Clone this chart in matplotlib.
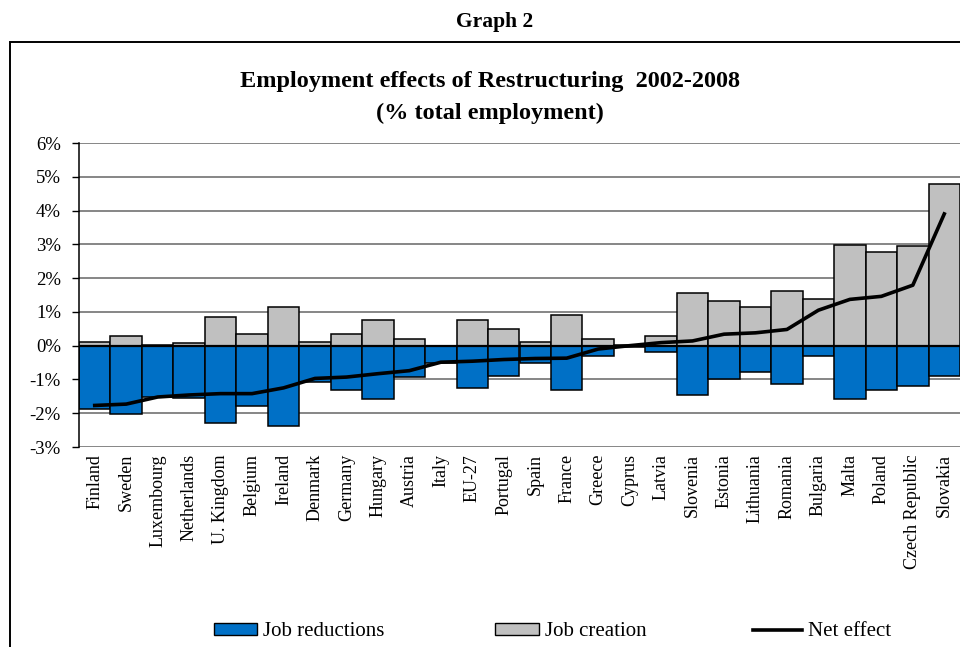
import matplotlib.pyplot as plt
import matplotlib.patches as patches
from matplotlib.lines import Line2D
import numpy as np

plt.rcParams['font.family'] = ['Liberation Serif', 'DejaVu Serif']

# Restructuring effects by country, % of total employment
countries = ["Finland", "Sweden", "Luxembourg", "Netherlands", "U. Kingdom", "Belgium",
             "Ireland", "Denmark", "Germany", "Hungary", "Austria", "Italy", "EU-27",
             "Portugal", "Spain", "France", "Greece", "Cyprus", "Latvia", "Slovenia",
             "Estonia", "Lithuania", "Romania", "Bulgaria", "Malta", "Poland",
             "Czech Republic", "Slovakia"]
job_creation = [0.10, 0.29, 0.01, 0.07, 0.86, 0.34, 1.14, 0.10, 0.34, 0.75, 0.19, 0.00,
                0.77, 0.48, 0.10, 0.90, 0.19, 0.03, 0.29, 1.57, 1.32, 1.14, 1.61, 1.37,
                2.98, 2.78, 2.95, 4.80]
job_reductions = [-1.87, -2.02, -1.53, -1.55, -2.30, -1.78, -2.39, -1.08, -1.30, -1.58,
                  -0.93, -0.50, -1.26, -0.89, -0.50, -1.30, -0.32, -0.03, -0.18, -1.45,
                  -0.98, -0.78, -1.13, -0.32, -1.58, -1.30, -1.18, -0.89]
net_effect = [-1.77, -1.73, -1.52, -1.46, -1.42, -1.42, -1.25, -0.97, -0.93, -0.83,
              -0.74, -0.49, -0.46, -0.41, -0.38, -0.37, -0.10, 0.00, 0.09, 0.14,
              0.34, 0.38, 0.48, 1.05, 1.37, 1.46, 1.79, 3.90]
y_ticks = [-3, -2, -1, 0, 1, 2, 3, 4, 5, 6]

blue = '#0070C6'
grey = '#C0C0C0'

fig = plt.figure(figsize=(9.6, 6.47), dpi=100)
ax = fig.add_axes([79 / 960, 1 - 447 / 647, 881 / 960, 304 / 647])

x = np.arange(len(countries))

# Bars touch each other (no gap), creation above zero, reductions below
ax.bar(x, job_creation, width=1, color=grey, edgecolor='black', linewidth=1.1, zorder=2)
ax.bar(x, job_reductions, width=1, color=blue, edgecolor='black', linewidth=1.1, zorder=2)
ax.axhline(0, color='black', linewidth=1.6, zorder=3)
ax.plot(x, net_effect, color='black', linewidth=2.6, zorder=4)

ax.set_xlim(-0.5, len(countries) - 0.5)
ax.set_ylim(-3, 6)
ax.set_yticks(y_ticks)
ax.set_yticklabels([f"{v}%" for v in y_ticks])
ax.yaxis.grid(True, color='#666666', linewidth=1.1, zorder=0)
ax.set_axisbelow(True)

ax.set_xticks(x)
ax.set_xticklabels(countries, rotation=90, va='top', ha='center')
ax.tick_params(axis='x', length=0, pad=5, labelsize=13)
ax.tick_params(axis='y', length=5, width=1, direction='out', pad=8, labelsize=13.5)

ax.spines[['top', 'right', 'bottom']].set_visible(False)
ax.spines['left'].set_linewidth(1.1)

# Titles
fig.text(495 / 960, 1 - 22 / 647, "Graph 2", ha='center', va='center',
         fontsize=15.5, fontweight='bold')
fig.text(490 / 960, 1 - 82 / 647, "Employment effects of Restructuring  2002-2008",
         ha='center', va='center', fontsize=17.5, fontweight='bold')
fig.text(490 / 960, 1 - 113 / 647, "(% total employment)",
         ha='center', va='center', fontsize=17.5, fontweight='bold')

# Outer chart frame, running off the right and bottom edges
frame = patches.Rectangle((10 / 960, -0.2), 1.2, 1.2 + (1 - 42 / 647) - 1,
                          transform=fig.transFigure, fill=False,
                          edgecolor='black', linewidth=1.4, clip_on=False)
fig.patches.append(frame)

# Legend entries placed one by one along the bottom
legend_y = 1 - 632 / 647
entries = [
    (patches.Patch(facecolor=blue, edgecolor='black', linewidth=1), "Job reductions", 214, 2.05),
    (patches.Patch(facecolor=grey, edgecolor='black', linewidth=1), "Job creation", 495, 2.1),
    (Line2D([], [], color='black', linewidth=2.6), "Net effect", 753, 2.35),
]
for handle, label, x0, hl in entries:
    fig.legend(handles=[handle], labels=[label], loc='center left',
               bbox_to_anchor=(x0 / 960, legend_y), frameon=False,
               fontsize=15, handlelength=hl, handleheight=0.55,
               handletextpad=0.3, borderpad=0, borderaxespad=0)

fig.savefig('out.png', dpi=100)
